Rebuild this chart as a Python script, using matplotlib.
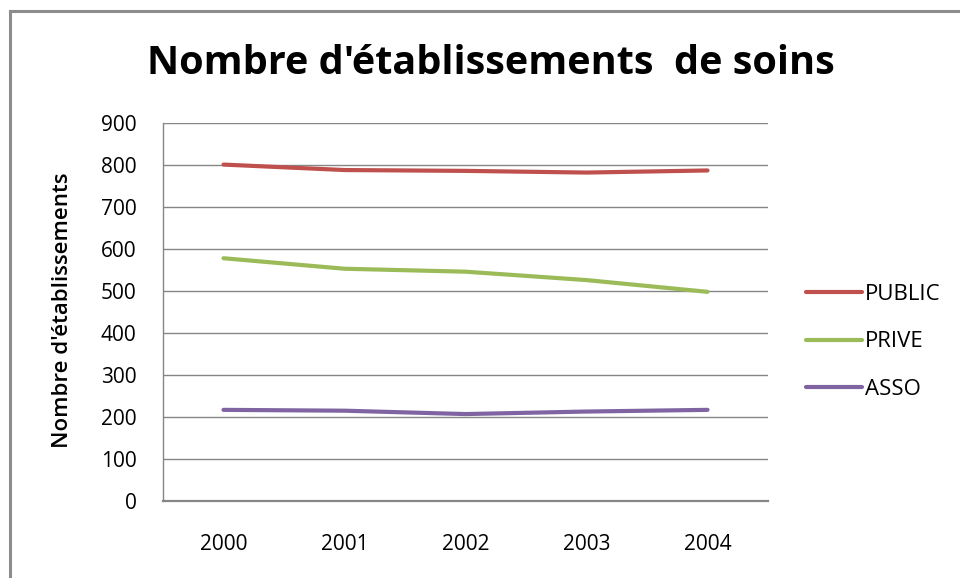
import matplotlib
matplotlib.use("Agg")
import matplotlib.pyplot as plt
from matplotlib.lines import Line2D

years = ["2000", "2001", "2002", "2003", "2004"]
public = [801, 788, 786, 782, 787]
prive = [578, 553, 546, 526, 498]
asso = [217, 215, 207, 213, 217]

series = [
    ("PUBLIC", public, "#C0504D"),
    ("PRIVE", prive, "#9BBB59"),
    ("ASSO", asso, "#8064A2"),
]

FONT = ["Open Sans", "DejaVu Sans"]
GRID = "#868686"

W, H = 960, 578
fig = plt.figure(figsize=(W / 100, H / 100), dpi=100)
fig.patch.set_facecolor("white")

# plot area in pixel coords: left 163, right 768, top 123, bottom 501
ax = fig.add_axes([163 / W, 1 - 501 / H, 605 / W, (501 - 123) / H])

x = list(range(len(years)))
for name, vals, col in series:
    ax.plot(x, vals, color=col, lw=3.0, solid_capstyle="round", label=name)

ax.set_xlim(-0.5, len(years) - 0.5)
ax.set_ylim(0, 900)
ax.set_yticks(range(0, 901, 100))
ax.set_xticks(x)
ax.set_xticklabels(years)
ax.yaxis.grid(True, color=GRID, lw=1.0)
ax.set_axisbelow(True)
ax.tick_params(axis="both", length=0, labelsize=15, colors="black")
ax.tick_params(axis="y", pad=19)
ax.tick_params(axis="x", pad=24)
for lab in ax.get_xticklabels() + ax.get_yticklabels():
    lab.set_family(FONT)
for s in ("top", "right"):
    ax.spines[s].set_visible(False)
ax.spines["left"].set_color(GRID)
ax.spines["left"].set_linewidth(1.0)
ax.spines["bottom"].set_color(GRID)
ax.spines["bottom"].set_linewidth(1.6)

fig.text(62 / W, 1 - 310 / H, "Nombre d'établissements", rotation=90,
         ha="center", va="center", fontsize=16, weight="semibold", family=FONT)

fig.text(491 / W, 1 - 63 / H, "Nombre d'établissements  de soins",
         ha="center", va="center", fontsize=28.5, weight="bold", family=FONT)

leg = ax.legend(loc="center left", bbox_to_anchor=(806 / W, 1 - 342 / H),
                bbox_transform=fig.transFigure, frameon=False,
                prop={"family": FONT, "size": 16}, handlelength=2.5,
                handletextpad=0.15, labelspacing=1.2, borderpad=0, borderaxespad=0)

# outer chart border (left and top edges visible)
fig.add_artist(Line2D([10 / W, 10 / W], [0, 1 - 11 / H], color="#8c8c8c", lw=2.2,
                      transform=fig.transFigure))
fig.add_artist(Line2D([10 / W, 1], [1 - 11 / H, 1 - 11 / H], color="#8c8c8c", lw=2.2,
                      transform=fig.transFigure))

fig.savefig("out.png", dpi=100, facecolor="white")
